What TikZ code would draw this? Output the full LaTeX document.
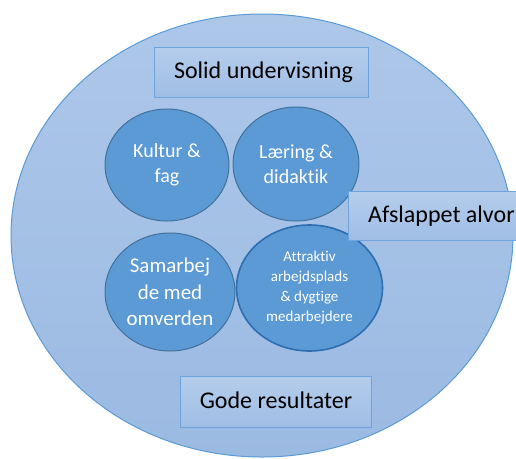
\documentclass[tikz,border=0pt]{standalone}
\usepackage{fontspec}
\setmainfont{Carlito}[Ligatures={NoCommon,NoRare}]
\usetikzlibrary{shapes.geometric}
\definecolor{bigfillA}{HTML}{ADC7E9}
\definecolor{bigfillB}{HTML}{9BBAE2}
\definecolor{bigline}{HTML}{5B9BD5}
\definecolor{smallfill}{HTML}{5B9AD5}
\definecolor{smallline}{HTML}{41719C}
\definecolor{strongline}{HTML}{2E6DB0}
\definecolor{boxA}{HTML}{B5CDEC}
\definecolor{boxB}{HTML}{9FBDE4}
\definecolor{boxline}{HTML}{6FA3DC}
\begin{document}
\begin{tikzpicture}[x=1pt,y=-1pt,
  bigell/.style={ellipse, top color=bigfillA, bottom color=bigfillB, draw=bigline, line width=1pt, inner sep=0pt},
  smallell/.style={ellipse, fill=smallfill, draw=smallline, line width=1pt, inner sep=0pt, text=white, align=center},
  labelbox/.style={rectangle, top color=boxA, bottom color=boxB, draw=boxline, line width=0.8pt, inner sep=0pt},
  boxtext/.style={font=\fontsize{24}{29}\selectfont, text=black, inner sep=0pt},
]
\useasboundingbox (0,0) rectangle (516,458);
\clip (0,0) rectangle (516,458);
\node[bigell, minimum width=502, minimum height=443] (outer) at (262,235.5) {};

\node[labelbox, minimum width=214, minimum height=50] (solid) at (261,72) {};
\node[boxtext, anchor=base] (solidtxt) at (263.5,78) {Solid undervisning};

\node[labelbox, minimum width=191, minimum height=51] (gode) at (275.5,401.5) {};
\node[boxtext, anchor=base] (godetxt) at (276,408) {Gode resultater};

\node[smallell, minimum width=124, minimum height=112, font=\fontsize{20}{24.5}\selectfont] (kultur) at (167,165) {Kultur \&\\fag};
\node[smallell, minimum width=126, minimum height=114, font=\fontsize{20}{24.5}\selectfont] (laering) at (296,164) {Læring \&\\didaktik};
\node[smallell, minimum width=130, minimum height=118, font=\fontsize{21}{26.5}\selectfont] (samarbejde) at (170,292) {Samarbej\\de med\\omverden};
\node[smallell, draw=strongline, line width=1.6pt, minimum width=146, minimum height=126, font=\fontsize{15}{20}\selectfont] (attraktiv) at (309.5,288) {Attraktiv\\arbejdsplads\\\& dygtige\\medarbejdere};

\node[labelbox, anchor=north west, minimum width=190, minimum height=49] (afslappet) at (348,191) {};
\node[boxtext, anchor=base west] (afslappettxt) at (368,222) {Afslappet alvor};
\end{tikzpicture}
\end{document}
